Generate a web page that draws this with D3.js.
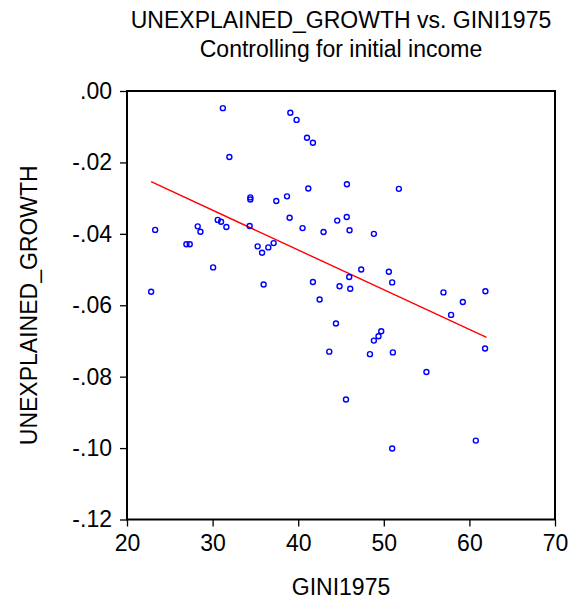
<!DOCTYPE html>
<html lang="en">
<head>
    <meta charset="UTF-8">
    <title>UNEXPLAINED_GROWTH vs. GINI1975</title>
    <style>
        body { margin: 0; background: white; }
        #svg { display: block; }
        text { font-family: "Liberation Sans", Arial, sans-serif; fill: black; }
    </style>
    <script src="https://d3js.org/d3.v7.min.js"></script>
</head>
<body>
    <svg id="svg"></svg>
    <script>
        const width = 571;
        const height = 601;

        // scatter data
        const gini = [31.2, 39.08, 39.81, 41.03, 41.72, 31.96, 41.18, 34.41, 34.41, 37.44,
            38.69, 23.29, 28.26, 28.58, 30.6, 30.99, 31.61, 34.33, 39.0, 40.51,
            42.96, 44.56, 45.69, 51.76, 45.67, 46.0, 48.84, 26.94, 27.33, 35.26,
            35.78, 36.51, 37.13, 30.06, 22.82, 35.96, 41.72, 42.5, 44.83, 44.41,
            43.63, 47.36, 45.96, 46.08, 50.59, 50.98, 56.97, 59.23, 61.87, 57.86,
            49.7, 49.38, 48.84, 48.38, 51.06, 61.83, 54.98, 45.58, 50.98, 60.75];
        const growth = [-0.0048, -0.0061, -0.0081, -0.0131, -0.0145, -0.0185, -0.0273, -0.0298, -0.0304, -0.0308,
            -0.0295, -0.0389, -0.0379, -0.0394, -0.0361, -0.0366, -0.0381, -0.0378, -0.0355, -0.0384,
            -0.0395, -0.0363, -0.0261, -0.0274, -0.0353, -0.0390, -0.0400, -0.0429, -0.0429, -0.0435,
            -0.0453, -0.0438, -0.0426, -0.0494, -0.0562, -0.0542, -0.0535, -0.0584, -0.0547, -0.0651,
            -0.0730, -0.0500, -0.0521, -0.0554, -0.0506, -0.0536, -0.0564, -0.0591, -0.0561, -0.0627,
            -0.0673, -0.0687, -0.0699, -0.0737, -0.0732, -0.0721, -0.0787, -0.0864, -0.1001, -0.0979];

        // fitted line ends
        const fitX = [22.82, 62.0];
        const fitY = [-0.0254, -0.0690];

        const xTicks = [20, 30, 40, 50, 60, 70];
        const yTicks = [0, -0.02, -0.04, -0.06, -0.08, -0.10, -0.12];

        const margin = { top: 91, right: 16, bottom: 81.5, left: 127 };
        const fs = 23;

        const svg = d3.select('#svg')
            .attr('width', width)
            .attr('height', height);

        const x = d3.scaleLinear().domain([20, 70]).range([margin.left, width - margin.right]);
        const y = d3.scaleLinear().domain([-0.12, 0]).range([height - margin.bottom, margin.top]);

        // EViews style: ".00", "-.02"
        const fmtY = d => d === 0 ? '.00' : d.toFixed(2).replace('0.', '.');

        // axes
        const xAxis = svg.append('g')
            .attr('transform', 'translate(0,' + (height - margin.bottom) + ')')
            .call(d3.axisBottom(x).tickValues(xTicks).tickSize(7).tickPadding(8));
        const yAxis = svg.append('g')
            .attr('transform', 'translate(' + margin.left + ',0)')
            .call(d3.axisLeft(y).tickValues(yTicks).tickFormat(fmtY).tickSize(7).tickPadding(8));

        [xAxis, yAxis].forEach(a => {
            a.select('.domain').remove();
            a.selectAll('line').attr('stroke', 'black').attr('stroke-width', 1.3);
            a.selectAll('text').attr('font-size', fs).attr('font-family', '"Liberation Sans", Arial, sans-serif');
        });
        xAxis.selectAll('text').attr('dy', '0.72em');

        // frame
        svg.append('rect')
            .attr('x', x(20))
            .attr('y', y(0))
            .attr('width', x(70) - x(20))
            .attr('height', y(-0.12) - y(0))
            .attr('fill', 'none')
            .attr('stroke', 'black')
            .attr('stroke-width', 2);

        // fitted line
        svg.append('line')
            .attr('x1', x(fitX[0])).attr('y1', y(fitY[0]))
            .attr('x2', x(fitX[1])).attr('y2', y(fitY[1]))
            .attr('stroke', '#ff0000')
            .attr('stroke-width', 1.4);

        // points
        svg.selectAll('circle')
            .data(gini)
            .enter()
            .append('circle')
            .attr('cx', d => x(d))
            .attr('cy', (d, i) => y(growth[i]))
            .attr('r', 2.5)
            .attr('fill', 'none')
            .attr('stroke', '#0000ff')
            .attr('stroke-width', 1.4);

        // titles
        const cx = (x(20) + x(70)) / 2;
        svg.append('text')
            .attr('x', cx).attr('y', 27.5)
            .attr('text-anchor', 'middle')
            .attr('font-size', fs)
            .text('UNEXPLAINED_GROWTH vs. GINI1975');
        svg.append('text')
            .attr('x', cx).attr('y', 56.5)
            .attr('text-anchor', 'middle')
            .attr('font-size', fs)
            .text('Controlling for initial income');
        svg.append('text')
            .attr('x', cx).attr('y', 595)
            .attr('text-anchor', 'middle')
            .attr('font-size', fs)
            .text('GINI1975');
        svg.append('text')
            .attr('transform', 'translate(37,' + ((y(0) + y(-0.12)) / 2) + ') rotate(-90)')
            .attr('text-anchor', 'middle')
            .attr('font-size', fs)
            .text('UNEXPLAINED_GROWTH');
    </script>
</body>
</html>
